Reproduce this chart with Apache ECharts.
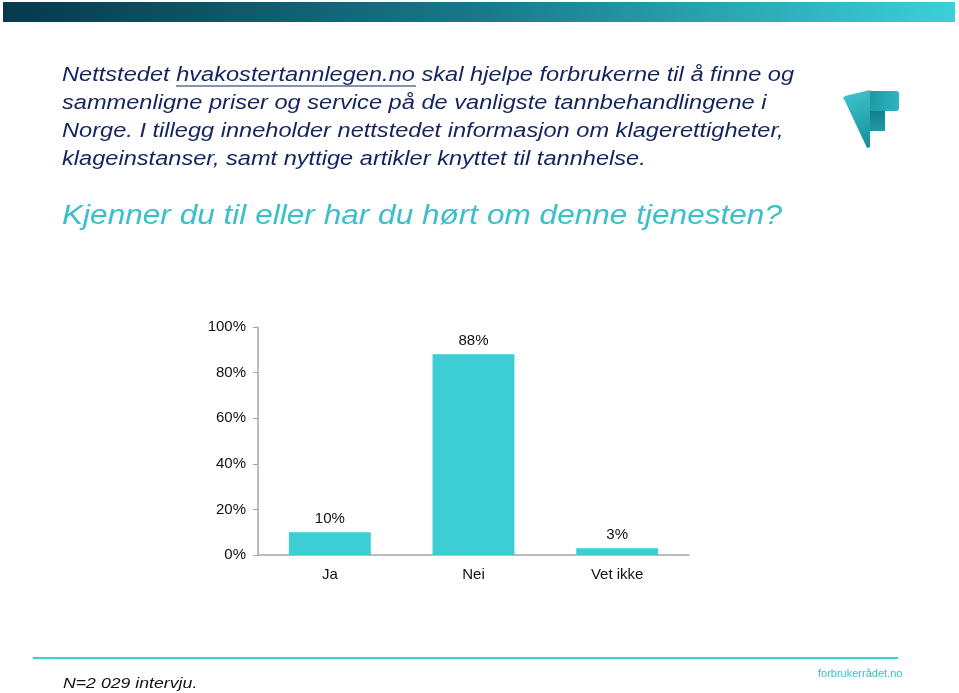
<!DOCTYPE html>
<html><head><meta charset="utf-8">
<script src="https://cdn.jsdelivr.net/npm/echarts@6/dist/echarts.min.js"></script>
<style>html,body{margin:0;padding:0;background:#fff}#c{width:959px;height:693px}</style>
</head><body><div id="c"></div>
<script>
const categories = ['Ja', 'Nei', 'Vet ikke'];
const values = [10, 88, 3];
const yTicks = [0, 20, 40, 60, 80, 100];
const introLines = [
  'Nettstedet hvakostertannlegen.no skal hjelpe forbrukerne til å finne og',
  'sammenligne priser og service på de vanligste tannbehandlingene i',
  'Norge. I tillegg inneholder nettstedet informasjon om klagerettigheter,',
  'klageinstanser, samt nyttige artikler knyttet til tannhelse.'
];
const question = 'Kjenner du til eller har du hørt om denne tjenesten?';
const footnote = 'N=2 029 intervju.';
const brand = 'forbrukerrådet.no';

const chart = echarts.init(document.getElementById('c'), null, {renderer: 'canvas'});
const font = 'Liberation Sans, Arial, sans-serif';
const SX = 1.18;
const graphics = [
  {type: 'rect', shape: {x: 3, y: 2, width: 952, height: 20},
   style: {fill: new echarts.graphic.LinearGradient(0, 0, 1, 0, [
     {offset: 0, color: '#053a4b'}, {offset: 0.5, color: '#17798a'}, {offset: 1, color: '#3bd0d8'}])}},
  // logo
  {type: 'polygon', shape: {points: [[845, 101], [843, 98], [845, 96], [849, 95], [870, 90], [870, 147], [867, 148]]},
   style: {fill: new echarts.graphic.LinearGradient(0, 0, 1, 1, [
     {offset: 0, color: '#40c8d0'}, {offset: 1, color: '#168c9b'}])}},
  {type: 'rect', shape: {x: 870, y: 91, width: 29, height: 20, r: [0, 3, 3, 0]},
   style: {fill: new echarts.graphic.LinearGradient(0, 0, 1, 0, [
     {offset: 0, color: '#1d9aa6'}, {offset: 1, color: '#2bb6c0'}])}},
  {type: 'rect', shape: {x: 870, y: 111, width: 15, height: 20},
   style: {fill: new echarts.graphic.LinearGradient(0, 0, 0, 1, [
     {offset: 0, color: '#157f8c'}, {offset: 1, color: '#1e9aa6'}])}},
  {type: 'line', shape: {x1: 33, y1: 658, x2: 898, y2: 658}, style: {stroke: '#3ccdd5', lineWidth: 2}},
  {type: 'text', x: 63, y: 676, scaleX: SX, style: {text: footnote, font: 'italic 15px ' + font, fill: '#111'}},
  {type: 'text', x: 818, y: 668, style: {text: brand, font: '11px ' + font, fill: '#3cc0c8'}},
  {type: 'text', x: 62, y: 203, scaleX: 1.17, style: {text: question, font: 'italic 27px ' + font, fill: '#3bbfc9'}}
];
introLines.forEach((t, i) => {
  graphics.push({type: 'text', x: 62, y: 65 + i * 28, scaleX: SX, style: {text: t, font: 'italic 20px ' + font, fill: '#14245f'}});
});
graphics.push({type: 'line', shape: {x1: 176, y1: 86, x2: 416, y2: 86}, style: {stroke: '#14245f', lineWidth: 1}});

chart.setOption({
  animation: false,
  grid: {left: 258, right: 270, top: 327, bottom: 138},
  xAxis: {
    type: 'category', data: categories,
    axisLine: {lineStyle: {color: '#a6a6a6', width: 1.5}},
    axisTick: {show: false},
    axisLabel: {color: '#111', fontSize: 15, fontFamily: font, margin: 12}
  },
  yAxis: {
    type: 'value', min: 0, max: 100, interval: 20,
    axisLine: {show: true, lineStyle: {color: '#a6a6a6', width: 1.5}},
    axisTick: {show: true, length: 5, lineStyle: {color: '#a6a6a6'}},
    splitLine: {show: false},
    axisLabel: {color: '#111', fontSize: 15, fontFamily: font, margin: 12,
      formatter: v => yTicks.includes(v) ? v + '%' : ''}
  },
  series: [{
    type: 'bar', data: values, barWidth: '57%',
    itemStyle: {color: '#3ccdd5'},
    label: {show: true, position: 'top', distance: 6, formatter: '{c}%', color: '#111', fontSize: 15, fontFamily: font}
  }],
  graphic: graphics
});
</script></body></html>
